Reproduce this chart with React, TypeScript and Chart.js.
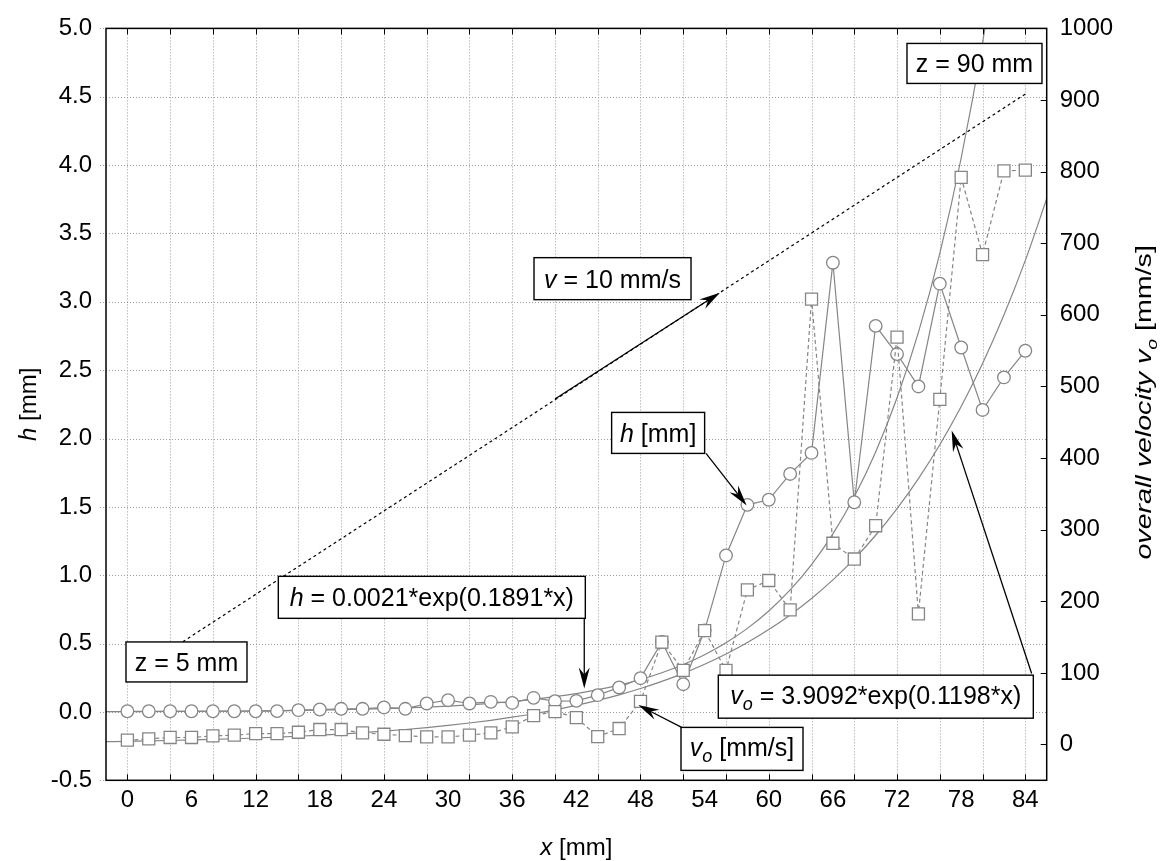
import React, { useEffect, useRef } from 'react';
import { Chart, registerables } from 'chart.js';
Chart.register(...registerables);

const FONT = '"Liberation Sans", Arial, Helvetica, sans-serif';

// ---------- data ----------
const X_POS = [0, 2, 4, 6, 8, 10, 12, 14, 16, 18, 20, 22, 24, 26, 28, 30, 32, 34, 36, 38, 40, 42,
  44, 46, 48, 50, 52, 54, 56, 58, 60, 62, 64, 66, 68, 70, 72, 74, 76, 78, 80, 82, 84];

// h [mm] (circles, left axis)
const H_MEASURED = [0.005, 0.005, 0.005, 0.005, 0.005, 0.005, 0.005, 0.006, 0.013, 0.018, 0.023,
  0.023, 0.033, 0.023, 0.062, 0.086, 0.062, 0.074, 0.066, 0.103, 0.079, 0.081, 0.123, 0.179,
  0.247, 0.512, 0.203, 0.597, 1.145, 1.515, 1.552, 1.741, 1.895, 3.286, 1.534, 2.824, 2.618,
  2.381, 3.133, 2.666, 2.209, 2.447, 2.642];

// v_o [mm/s] (squares, right axis)
const VO_MEASURED = [6.0, 7.8, 9.8, 9.8, 12, 13, 15.3, 15.3, 17.1, 20.9, 20.9, 16.2, 14.3, 12.5,
  10.6, 10.6, 13, 16.2, 24.5, 40.4, 46, 37.6, 11.1, 22.3, 60.3, 143, 103.5, 159, 103.5, 216, 229,
  188, 622, 281, 259, 305.5, 569, 182.5, 482, 792, 684, 801, 802];

// fitted h curve (left axis)
const FIT_H_X = [-2, 0, 2, 4, 6, 8, 10, 12, 14, 16, 18, 20, 22, 24, 26, 28, 30, 32, 34, 36, 38, 40,
  42, 44, 46, 48, 50, 52, 54, 56, 58, 60, 62, 64, 66, 68, 70, 72, 74, 76, 78, 80, 82];
const FIT_H = [0.0021, 0.00254, 0.00307, 0.0037, 0.00447, 0.0054, 0.00653, 0.00789, 0.00953,
  0.01151, 0.01391, 0.01681, 0.02031, 0.02454, 0.02965, 0.03582, 0.04328, 0.05229, 0.06318,
  0.07633, 0.09222, 0.1114, 0.1346, 0.1627, 0.1965, 0.2374, 0.2869, 0.3466, 0.4188, 0.506,
  0.6113, 0.7386, 0.8924, 1.0782, 1.3027, 1.574, 1.902, 2.298, 2.776, 3.354, 4.052, 4.896, 5.916];

// fitted v_o curve (right axis)
const FIT_V_X = [-2, 0, 2, 4, 6, 8, 10, 12, 14, 16, 18, 20, 22, 24, 26, 28, 30, 32, 34, 36, 38, 40,
  42, 44, 46, 48, 50, 52, 54, 56, 58, 60, 62, 64, 66, 68, 70, 72, 74, 76, 78, 80, 82, 84, 86];
const FIT_V = [3.909, 4.407, 4.968, 5.6, 6.313, 7.117, 8.023, 9.044, 10.2, 11.49, 12.96, 14.61,
  16.47, 18.56, 20.93, 23.59, 26.59, 29.98, 33.8, 38.1, 42.95, 48.42, 54.58, 61.53, 69.36, 78.19,
  88.15, 99.37, 112.0, 126.3, 142.4, 160.5, 180.9, 204.0, 229.9, 259.2, 292.2, 329.4, 371.3,
  418.6, 471.9, 532.0, 599.7, 676.0, 762.1];

// straight dashed line (v = 10 mm/s, z from 5 to 90 mm)
const FEED_X = [0, 84];
const FEED_H = [0.25, 4.52];

// ticks
const X_LABELS = [0, 6, 12, 18, 24, 30, 36, 42, 48, 54, 60, 66, 72, 78, 84];
const X_GRID = [0, 4, 8, 12, 16, 20, 24, 28, 32, 36, 40, 44, 48, 52, 56, 60, 64, 68, 72, 76, 80, 84];
const H_TICKS = [-0.5, 0, 0.5, 1, 1.5, 2, 2.5, 3, 3.5, 4, 4.5, 5];
const V_TICKS = [0, 100, 200, 300, 400, 500, 600, 700, 800, 900, 1000];

// ---------- annotations (anchored in data units: x, h) ----------
type Seg = { t: string; it?: boolean; sub?: boolean };
const BOXES: { segs: Seg[]; x: number; h: number; w: number; hg: number }[] = [
  { segs: [{ t: 'z = 90 mm' }], x: 72.93, h: 4.89, w: 135, hg: 40 },
  { segs: [{ t: 'v', it: true }, { t: ' = 10 mm/s' }], x: 38.04, h: 3.323, w: 157, hg: 42 },
  { segs: [{ t: 'h', it: true }, { t: ' [mm]' }], x: 45.3, h: 2.191, w: 93, hg: 41 },
  { segs: [{ t: 'h', it: true }, { t: ' = 0.0021*exp(0.1891*x)' }], x: 14.12, h: 0.992, w: 307, hg: 42 },
  { segs: [{ t: 'z = 5 mm' }], x: -0.13, h: 0.512, w: 121, hg: 40 },
  { segs: [{ t: 'v', it: true }, { t: 'o', it: true, sub: true }, { t: ' = 3.9092*exp(0.1198*x)' }], x: 55.28, h: 0.269, w: 315, hg: 43 },
  { segs: [{ t: 'v', it: true }, { t: 'o', it: true, sub: true }, { t: ' [mm/s]' }], x: 51.79, h: -0.113, w: 122, hg: 43 },
];
const ARROWS: { from: [number, number]; to: [number, number] }[] = [
  { from: [42.74, 0.687], to: [42.74, 0.172] },
  { from: [40.0, 2.289], to: [55.43, 3.067] },
  { from: [54.13, 1.892], to: [57.93, 1.51] },
  { from: [84.59, 0.281], to: [77.11, 2.058] },
  { from: [51.85, -0.113], to: [47.79, 0.05] },
];

const GRID = '#9c9c9c';
const GRAY = '#858585';

function segFont(s: Seg, size: number) {
  return `${s.it ? 'italic ' : ''}${s.sub ? Math.round(size * 0.7) : size}px ${FONT}`;
}
function richWidth(ctx: CanvasRenderingContext2D, segs: Seg[], size: number) {
  let w = 0;
  for (const s of segs) { ctx.font = segFont(s, size); w += ctx.measureText(s.t).width; }
  return w;
}
function drawRich(ctx: CanvasRenderingContext2D, segs: Seg[], x: number, y: number, size: number) {
  let cx = x;
  ctx.textBaseline = 'alphabetic';
  ctx.textAlign = 'left';
  for (const s of segs) {
    ctx.font = segFont(s, size);
    ctx.fillText(s.t, cx, s.sub ? y + size * 0.25 : y);
    cx += ctx.measureText(s.t).width;
  }
}
function drawArrow(ctx: CanvasRenderingContext2D, x1: number, y1: number, x2: number, y2: number) {
  const len = 21, half = 5.5, notch = 14;
  const d = Math.hypot(x2 - x1, y2 - y1);
  const ux = (x2 - x1) / d, uy = (y2 - y1) / d;
  const nx = -uy, ny = ux;
  ctx.strokeStyle = '#000';
  ctx.fillStyle = '#000';
  ctx.lineWidth = 1.3;
  ctx.setLineDash([]);
  ctx.beginPath();
  ctx.moveTo(x1, y1);
  ctx.lineTo(x2 - notch * ux, y2 - notch * uy);
  ctx.stroke();
  const bx = x2 - len * ux, by = y2 - len * uy;
  ctx.beginPath();
  ctx.moveTo(x2, y2);
  ctx.lineTo(bx + half * nx, by + half * ny);
  ctx.lineTo(x2 - notch * ux, y2 - notch * uy);
  ctx.lineTo(bx - half * nx, by - half * ny);
  ctx.closePath();
  ctx.fill();
}

const gridPlugin = {
  id: 'dotgrid',
  beforeDatasetsDraw(chart: any) {
    const { ctx, chartArea: ca, scales } = chart;
    const xs = scales.x, ys = scales.y;
    ctx.save();
    ctx.strokeStyle = GRID;
    ctx.lineWidth = 1;
    ctx.setLineDash([1, 2]);
    ctx.beginPath();
    for (const v of X_GRID) {
      const px = Math.round(xs.getPixelForValue(v)) + 0.5;
      ctx.moveTo(px, ca.top); ctx.lineTo(px, ca.bottom);
    }
    for (const v of H_TICKS) {
      const py = Math.round(ys.getPixelForValue(v)) + 0.5;
      ctx.moveTo(ca.left - 6, py); ctx.lineTo(ca.right, py);
    }
    ctx.stroke();
    ctx.restore();
  },
};

const decorPlugin = {
  id: 'decor',
  afterDraw(chart: any) {
    const { ctx, chartArea: ca, scales } = chart;
    const xs = scales.x, ys = scales.y, yr = scales.y1;
    ctx.save();
    // frame
    ctx.strokeStyle = '#000';
    ctx.lineWidth = 1.5;
    ctx.setLineDash([]);
    ctx.strokeRect(ca.left, ca.top, ca.right - ca.left, ca.bottom - ca.top);
    ctx.lineWidth = 1;
    ctx.beginPath();
    for (const v of X_GRID) {
      const px = Math.round(xs.getPixelForValue(v)) + 0.5;
      ctx.moveTo(px, ca.bottom); ctx.lineTo(px, ca.bottom - 6);
      ctx.moveTo(px, ca.top); ctx.lineTo(px, ca.top + 6);
    }
    for (const v of V_TICKS) {
      const py = Math.round(yr.getPixelForValue(v)) + 0.5;
      ctx.moveTo(ca.right, py); ctx.lineTo(ca.right - 6, py);
    }
    ctx.stroke();

    // arrows
    for (const a of ARROWS) {
      drawArrow(ctx, xs.getPixelForValue(a.from[0]), ys.getPixelForValue(a.from[1]),
        xs.getPixelForValue(a.to[0]), ys.getPixelForValue(a.to[1]));
    }
    // boxes
    const size = 25;
    for (const b of BOXES) {
      const left = xs.getPixelForValue(b.x);
      const top = ys.getPixelForValue(b.h);
      ctx.fillStyle = '#fff';
      ctx.fillRect(left, top, b.w, b.hg);
      ctx.strokeStyle = '#000';
      ctx.lineWidth = 1.4;
      ctx.strokeRect(left, top, b.w, b.hg);
      const hasSub = b.segs.some((s) => s.sub);
      const tw = richWidth(ctx, b.segs, size);
      ctx.fillStyle = '#000';
      drawRich(ctx, b.segs, left + (b.w - tw) / 2, top + b.hg / 2 + 9 - (hasSub ? 2 : 0), size);
    }

    // axis titles
    const tsize = 24;
    ctx.fillStyle = '#000';
    const xt: Seg[] = [{ t: 'x', it: true }, { t: ' [mm]' }];
    const xw = richWidth(ctx, xt, tsize);
    drawRich(ctx, xt, (ca.left + ca.right) / 2 - xw / 2, 855, tsize);

    const lt: Seg[] = [{ t: 'h', it: true }, { t: ' [mm]' }];
    ctx.save();
    ctx.translate(36, (ca.top + ca.bottom) / 2);
    ctx.rotate(-Math.PI / 2);
    const lw = richWidth(ctx, lt, tsize);
    drawRich(ctx, lt, -lw / 2, 0, tsize);
    ctx.restore();

    const rsize = 22;
    const rt: Seg[] = [{ t: 'overall velocity v', it: true }, { t: 'o', it: true, sub: true }, { t: ' [mm/s]' }];
    ctx.save();
    ctx.translate(1151, (ca.top + ca.bottom) / 2 - 2);
    ctx.rotate(-Math.PI / 2);
    ctx.scale(1.3, 1);
    const rw = richWidth(ctx, rt, rsize);
    drawRich(ctx, rt, -rw / 2, 0, rsize);
    ctx.restore();

    ctx.restore();
  },
};

function pts(xs: number[], ys: number[]) {
  return xs.map((x, i) => ({ x, y: ys[i] }));
}

export default function App() {
  const ref = useRef<HTMLCanvasElement>(null);
  useEffect(() => {
    const tickFont = { family: FONT, size: 24 };
    const hidden = { display: true, color: 'rgba(0,0,0,0)', drawTicks: false, drawOnChartArea: false };
    const chart = new Chart(ref.current!, {
      type: 'scatter',
      data: {
        datasets: [
          {
            data: pts(X_POS, VO_MEASURED), yAxisID: 'y1', showLine: true, order: 0,
            borderColor: GRAY, borderWidth: 1.2, borderDash: [4, 3],
            pointStyle: 'rect', pointRadius: 8.5, pointBackgroundColor: '#fff',
            pointBorderColor: GRAY, pointBorderWidth: 1.3,
          },
          {
            data: pts(X_POS, H_MEASURED), yAxisID: 'y', showLine: true, order: 1,
            borderColor: GRAY, borderWidth: 1.2,
            pointStyle: 'circle', pointRadius: 6.3, pointBackgroundColor: '#fff',
            pointBorderColor: GRAY, pointBorderWidth: 1.3,
          },
          {
            data: pts(FIT_H_X, FIT_H), yAxisID: 'y', showLine: true, order: 2,
            borderColor: GRAY, borderWidth: 1.2, pointRadius: 0, cubicInterpolationMode: 'monotone',
          },
          {
            data: pts(FIT_V_X, FIT_V), yAxisID: 'y1', showLine: true, order: 2,
            borderColor: GRAY, borderWidth: 1.2, pointRadius: 0, cubicInterpolationMode: 'monotone',
          },
          {
            data: pts(FEED_X, FEED_H), yAxisID: 'y', showLine: true, order: 3,
            borderColor: '#000', borderWidth: 1.2, borderDash: [3, 3], pointRadius: 0,
          },
        ] as any,
      },
      options: {
        responsive: false,
        animation: false,
        devicePixelRatio: 1,
        events: [],
        layout: { padding: { top: 27, left: 0, right: 0, bottom: 0 } },
        plugins: { legend: { display: false }, tooltip: { enabled: false } },
        scales: {
          x: {
            type: 'linear', min: -2, max: 86,
            afterBuildTicks: (s: any) => { s.ticks = X_LABELS.map((v) => ({ value: v })); },
            afterFit: (s: any) => { s.height = 80.7; },
            border: { display: false },
            grid: hidden,
            ticks: { autoSkip: false, maxRotation: 0, minRotation: 0, padding: 6, color: '#000', font: tickFont },
          },
          y: {
            type: 'linear', position: 'left', min: -0.5, max: 5,
            afterBuildTicks: (s: any) => { s.ticks = H_TICKS.map((v) => ({ value: v })); },
            afterFit: (s: any) => { s.width = 106; },
            border: { display: false },
            grid: hidden,
            ticks: { padding: 14, color: '#000', font: tickFont, callback: (v: any) => Number(v).toFixed(1) },
          },
          y1: {
            type: 'linear', position: 'right', min: -50, max: 1000,
            afterBuildTicks: (s: any) => { s.ticks = V_TICKS.map((v) => ({ value: v })); },
            afterFit: (s: any) => { s.width = 114.3; },
            border: { display: false },
            grid: hidden,
            ticks: { padding: 13, color: '#000', font: tickFont, callback: (v: any) => String(v) },
          },
        },
        elements: { line: { tension: 0 } },
      } as any,
      plugins: [gridPlugin, decorPlugin],
    });
    return () => chart.destroy();
  }, []);
  return (
    <div style={{ position: 'fixed', left: 0, top: 0, width: 1161, height: 861, background: '#fff' }}>
      <canvas ref={ref} width={1161} height={861} style={{ display: 'block', width: 1161, height: 861 }} />
    </div>
  );
}
